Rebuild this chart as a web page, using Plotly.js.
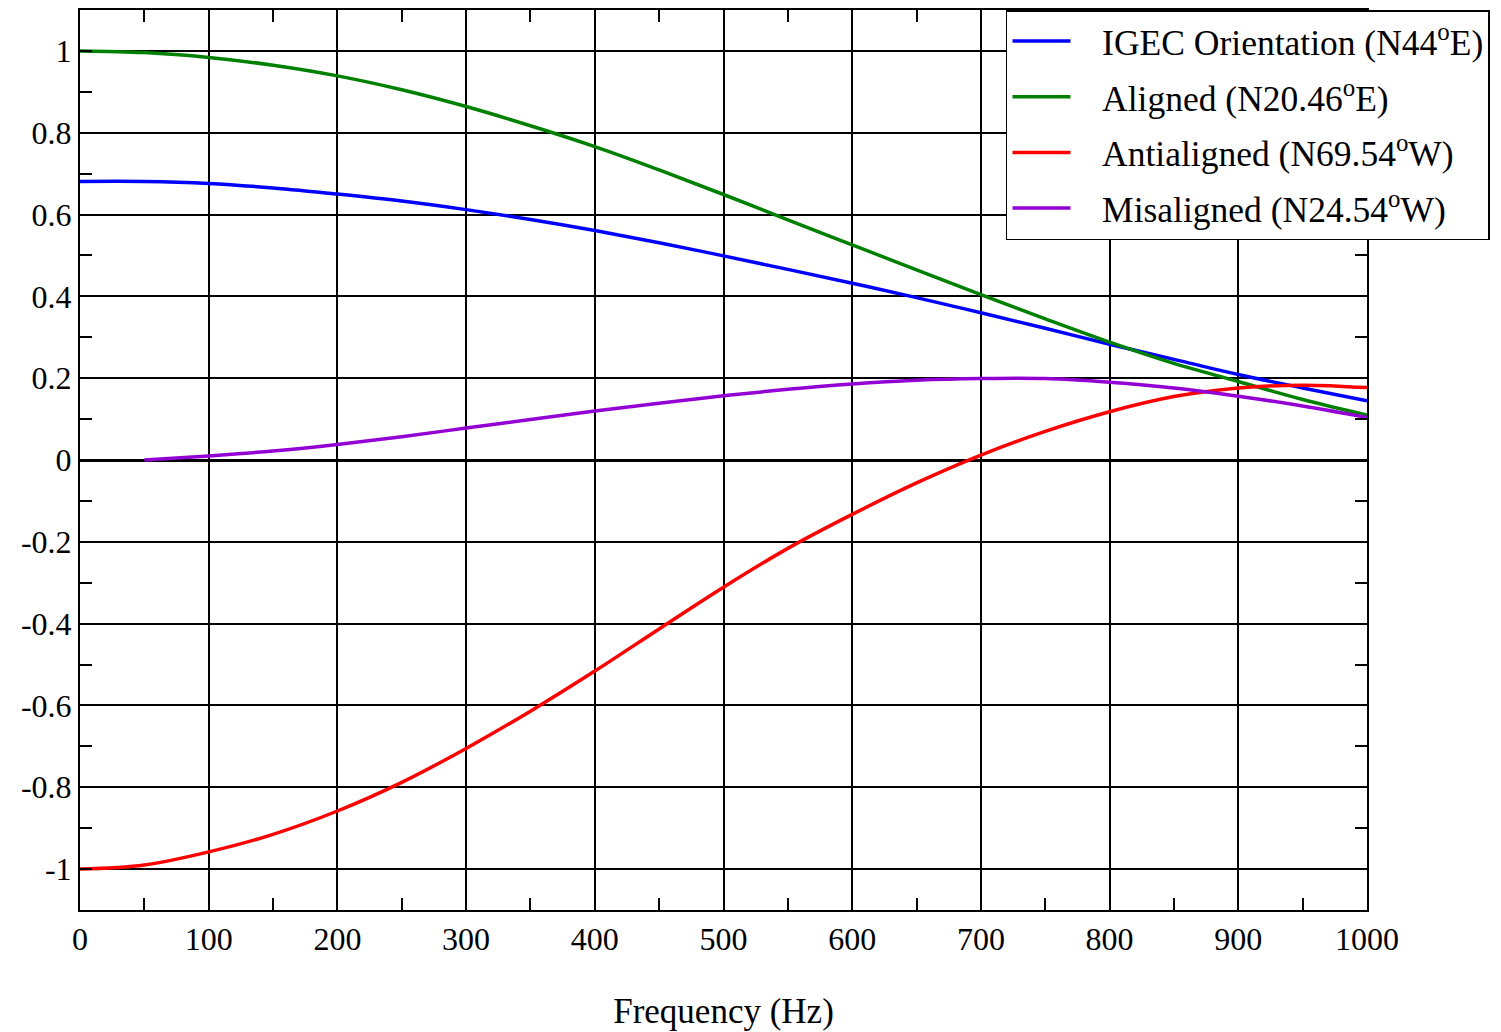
<!DOCTYPE html>
<html>
<head>
<meta charset="utf-8">
<script src="https://cdn.plot.ly/plotly-3.0.1.min.js"></script>
<style>html,body{margin:0;padding:0;background:#fff;}#chart{width:1501px;height:1032px;}</style>
</head>
<body>
<div id="chart"></div>
<script>
// Frequency (Hz)
const freq = [0,50,100,150,200,250,300,350,400,450,500,550,600,650,700,750,800,850,900,950,1000];
const freqMis = [50,100,150,200,250,300,350,400,450,500,550,600,650,700,750,800,850,900,950,1000];
// Series values
const igec = [0.681,0.681,0.676,0.665,0.650,0.633,0.612,0.588,0.561,0.531,0.499,0.466,0.432,0.397,0.360,0.322,0.283,0.246,0.209,0.176,0.145];
const aligned = [1.0,0.996,0.984,0.965,0.939,0.905,0.864,0.817,0.766,0.709,0.649,0.587,0.526,0.465,0.404,0.345,0.288,0.236,0.192,0.148,0.110];
const antialigned = [-1.0,-0.99,-0.958,-0.915,-0.858,-0.788,-0.705,-0.614,-0.516,-0.413,-0.311,-0.216,-0.133,-0.056,0.012,0.07,0.118,0.155,0.176,0.183,0.177];
const misaligned = [0.0,0.01,0.022,0.038,0.057,0.078,0.099,0.12,0.139,0.157,0.173,0.186,0.195,0.199,0.199,0.19,0.176,0.156,0.132,0.104];
// Series names
const names = ['IGEC Orientation (N44<sup>o</sup>E)','Aligned (N20.46<sup>o</sup>E)','Antialigned (N69.54<sup>o</sup>W)','Misaligned (N24.54<sup>o</sup>W)'];
const colors = ['#0000ff','#008000','#ff0000','#9400d3'];
// Tick labels
const yTickVals = [-1,-0.8,-0.6,-0.4,-0.2,0,0.2,0.4,0.6,0.8,1];
const yTickText = ['-1','-0.8','-0.6','-0.4','-0.2','0','0.2','0.4','0.6','0.8','1'];
const xTickVals = [0,100,200,300,400,500,600,700,800,900,1000];
const xTickText = ['0','100','200','300','400','500','600','700','800','900','1000'];

const xs = [freq,freq,freq,freqMis];
const ys = [igec,aligned,antialigned,misaligned];
const traces = ys.map((y,i)=>({
  x: xs[i], y: y, type:'scatter', mode:'lines', name: '\u2002\u00a0' + names[i],
  legendgroup: 'g'+i,
  line:{color:colors[i], width:3.5, shape:'spline'}
}));

const fam = '"Liberation Serif", "Times New Roman", serif';
const layout = {
  width:1501, height:1032,
  margin:{l:80, r:134, t:10, b:122},
  paper_bgcolor:'#fff', plot_bgcolor:'#fff',
  font: {family:fam, color:'#000', size:32},
  showlegend:true,
  legend:{x:0.7195, y:1, xanchor:'left', yanchor:'top', bgcolor:'#fff',
    bordercolor:'#000', borderwidth:1.5, font:{family:fam,size:35.5,color:'#000'},
    tracegroupgap:6.5, itemwidth:58},
  xaxis:{range:[0,1000], tickvals:xTickVals, ticktext:xTickText,
    showgrid:true, gridcolor:'#000', gridwidth:2,
    showline:true, linecolor:'#000', linewidth:2, mirror:'ticks',
    ticks:'inside', ticklen:0, tickcolor:'#000',
    minor:{dtick:50, ticks:'inside', ticklen:12, tickcolor:'#000', tickwidth:2, showgrid:false},
    zeroline:false, tickfont:{size:32},
    title:{text:'Frequency (Hz)', font:{size:35}, standoff:42}},
  yaxis:{range:[-1.1,1.1], tickvals:yTickVals, ticktext:yTickText,
    showgrid:true, gridcolor:'#000', gridwidth:2,
    showline:true, linecolor:'#000', linewidth:2, mirror:'ticks',
    ticks:'inside', ticklen:0, tickcolor:'#000',
    minor:{dtick:0.1, ticks:'inside', ticklen:12, tickcolor:'#000', tickwidth:2, showgrid:false},
    zeroline:true, zerolinecolor:'#000', zerolinewidth:3, tickfont:{size:32}}
};
Plotly.newPlot('chart', traces, layout, {displayModeBar:false, staticPlot:true});
</script>
</body>
</html>
